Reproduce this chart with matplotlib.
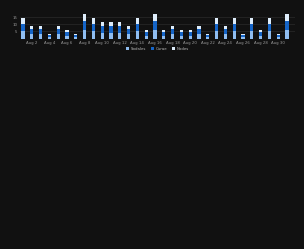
import numpy as np
import matplotlib
matplotlib.use("Agg")
import matplotlib.pyplot as plt

days = list(range(1, 32))
labels = ["Aug %d" % d for d in days]

# stacked values
sodales = [5, 3, 3, 1, 3, 2, 1, 6, 5, 4, 4, 4, 3, 5, 2, 6,
           2, 3, 2, 2, 3, 1, 5, 3, 5, 1, 5, 2, 5, 1, 6]
curae = [5.5, 4, 4, 1.5, 4, 2.5, 1.5, 6, 5.5, 4.5, 4.5, 4.5, 4, 5.5, 2.5, 6,
         2.5, 4, 2.5, 2.5, 4, 1.5, 5.5, 4, 5.5, 1.5, 5.5, 2.5, 5.5, 1.5, 6]
nodes = [4, 2, 2, 1, 2, 1.5, 1, 5.5, 4, 3, 3, 3, 2, 4, 1.5, 5.5,
         1.5, 2, 1.5, 1.5, 2, 1, 4, 2, 4, 1, 4, 1.5, 4, 1, 5.5]

bg = "#111111"
fig = plt.figure(figsize=(3.04, 2.49), dpi=100, facecolor=bg)
ax = fig.add_axes([0.066, 0.845, 0.904, 0.106], facecolor=bg)

x = np.array(days)
w = 0.36
s = np.array(sodales)
c = np.array(curae)
n = np.array(nodes)
ax.bar(x, s, w, color="#8fbdf0", label="Sodales", zorder=2)
ax.bar(x, c, w, bottom=s, color="#1565c8", label="Curae", zorder=2)
ax.bar(x, n, w, bottom=s + c, color="#deedfb", label="Nodes", zorder=2)

ax.set_xlim(0.66, 31.9)
ax.set_ylim(0, 18.5)
ax.set_yticks([5, 10, 15])
ax.set_xticks(x[1::2])
ax.set_xticklabels(labels[1::2])
ax.tick_params(colors="#9a9a9a", labelsize=2.8, length=0, pad=2)
ax.grid(axis="y", color="#2a2a2a", linewidth=0.5, zorder=0)
for sp in ax.spines.values():
    sp.set_visible(False)

leg = ax.legend(loc="upper center", bbox_to_anchor=(0.5, -0.17), ncol=3,
                frameon=False, fontsize=2.8, handlelength=0.8, handleheight=0.8,
                columnspacing=1.2, handletextpad=0.5, labelcolor="#bbbbbb")

fig.savefig("out.png", dpi=100, facecolor=bg)
